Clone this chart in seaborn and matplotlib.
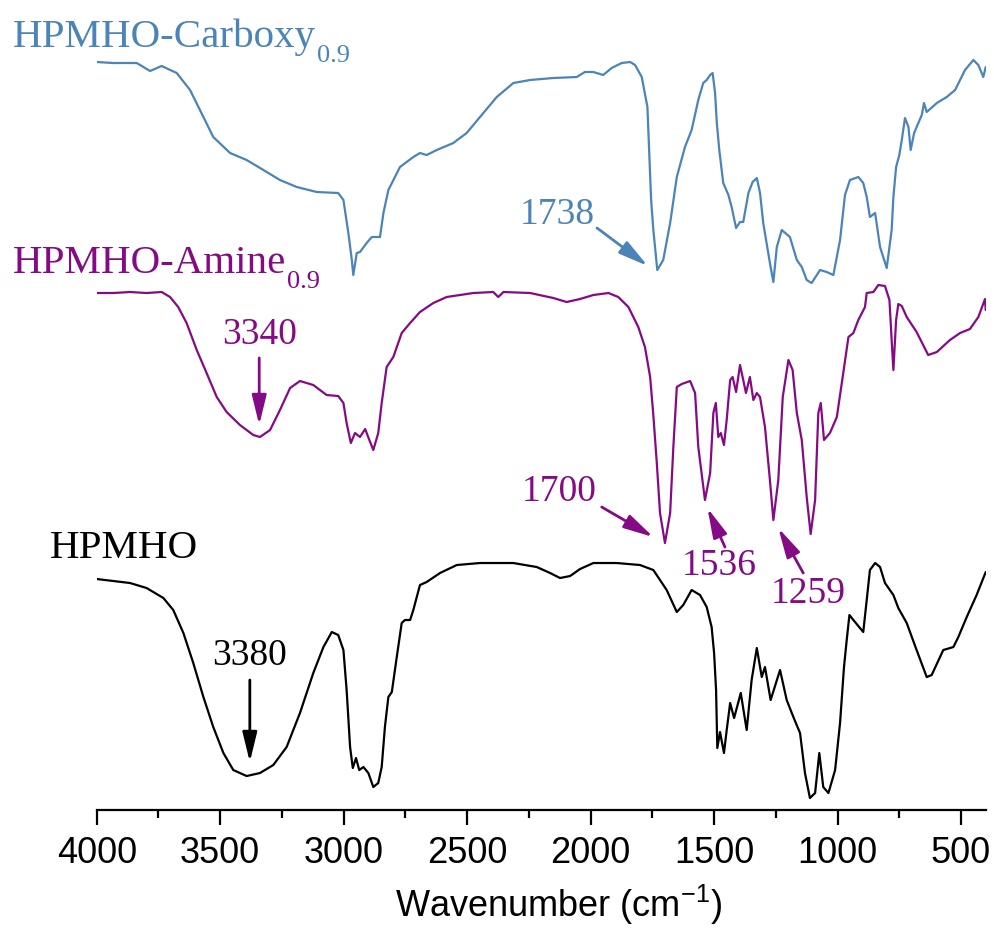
import numpy as np
import pandas as pd
import matplotlib
matplotlib.use("Agg")
import matplotlib.pyplot as plt
import seaborn as sns
from matplotlib.ticker import MultipleLocator

# FTIR spectra, stacked with offsets: wavenumber (cm-1) vs transmittance (a.u.)
carboxy_wn = [4000, 3933, 3838, 3784, 3737, 3676, 3622, 3568, 3528, 3460, 3393, 3325,
              3258, 3190, 3109, 3022, 3001, 2981, 2967, 2961, 2947, 2934, 2907, 2886,
              2853, 2839, 2819, 2772, 2718, 2691, 2664, 2623, 2556, 2502, 2448, 2380,
              2313, 2245, 2151, 2056, 2023, 1989, 1949, 1915, 1874, 1840, 1820, 1793,
              1770, 1762, 1755, 1746, 1730, 1706, 1678, 1651, 1618, 1591, 1564, 1544,
              1530, 1516, 1506, 1496, 1489, 1479, 1463, 1442, 1429, 1411, 1395, 1382,
              1361, 1344, 1327, 1314, 1301, 1274, 1260, 1246, 1226, 1193, 1165, 1145,
              1125, 1105, 1071, 1044, 1017, 990, 970, 950, 916, 896, 882, 869, 848, 828,
              801, 781, 774, 763, 750, 740, 727, 713, 704, 690, 673, 659, 650, 639, 598,
              558, 524, 484, 450, 430, 410, 400]
carboxy_t = [748, 747, 747, 739, 744, 737, 720, 693, 673, 657, 650, 640,
             630, 623, 618, 617, 610, 577, 550, 535, 557, 558, 567, 573,
             573, 597, 620, 643, 653, 657, 655, 660, 667, 677, 693, 713,
             727, 730, 732, 733, 738, 738, 735, 742, 747, 748, 745, 733,
             703, 653, 610, 580, 540, 550, 587, 633, 663, 680, 710, 727,
             730, 735, 737, 717, 687, 660, 627, 615, 603, 582, 588, 588,
             617, 628, 632, 617, 587, 547, 528, 563, 580, 573, 550, 543,
             530, 527, 540, 538, 535, 570, 615, 630, 633, 627, 613, 593, 597, 563,
             542, 580, 613, 643, 655, 670, 692, 683, 660, 677, 687, 695, 707, 698, 707,
             713, 720, 740, 750, 745, 733, 743]

amine_wn = [4000, 3933, 3865, 3798, 3737, 3703, 3670, 3636, 3595, 3555, 3514, 3474,
            3420, 3366, 3339, 3298, 3258, 3217, 3177, 3123, 3069, 3022, 3001, 2988,
            2971, 2954, 2934, 2913, 2896, 2880, 2860, 2846, 2826, 2799, 2765, 2731,
            2691, 2637, 2583, 2475, 2394, 2374, 2353, 2245, 2151, 2097, 2043, 1989,
            1928, 1888, 1847, 1807, 1780, 1759, 1747, 1732, 1719, 1699, 1678, 1665,
            1651, 1631, 1597, 1577, 1564, 1537, 1516, 1503, 1493, 1483, 1473, 1460,
            1449, 1435, 1425, 1411, 1395, 1382, 1371, 1355, 1341, 1327, 1314, 1294,
            1274, 1260, 1240, 1222, 1199, 1182, 1165, 1145, 1125, 1109, 1091, 1078,
            1068, 1055, 1031, 1003, 977, 956, 936, 916, 889, 882, 855, 835, 808, 790,
            781, 774, 763, 754, 740, 720, 680, 633, 598, 545, 504, 464, 430, 403, 400]
amine_t = [517, 517, 518, 517, 518, 513, 503, 487, 460, 437, 413, 398,
           385, 375, 373, 380, 400, 422, 429, 425, 415, 414, 407, 387,
           367, 377, 373, 381, 370, 360, 377, 407, 443, 453, 477, 487,
           498, 507, 513, 517, 518, 513, 518, 517, 512, 508, 511, 515,
           517, 513, 503, 483, 463, 433, 398, 347, 297, 267, 297, 363,
           423, 426, 429, 417, 363, 310, 337, 397, 407, 373, 377, 365,
           390, 430, 433, 418, 445, 430, 417, 433, 410, 417, 413, 383,
           330, 290, 330, 413, 450, 440, 397, 370, 313, 276, 310, 397,
           407, 370, 377, 393, 437, 473, 477, 490, 503, 517, 518, 525, 524, 510,
           470, 440, 490, 506, 504, 493, 478, 455, 458, 470, 477, 481, 493, 511, 500]

hpmho_wn = [4000, 3865, 3798, 3730, 3690, 3649, 3609, 3568, 3528, 3487, 3447, 3393,
            3339, 3285, 3231, 3177, 3123, 3082, 3048, 3022, 3001, 2988, 2974, 2963,
            2950, 2937, 2920, 2900, 2880, 2860, 2846, 2833, 2819, 2805, 2785, 2765,
            2752, 2731, 2718, 2704, 2691, 2664, 2610, 2542, 2448, 2313, 2218, 2164,
            2124, 2083, 2043, 1989, 1894, 1800, 1746, 1692, 1651, 1625, 1591, 1557,
            1530, 1510, 1500, 1492, 1487, 1476, 1460, 1449, 1435, 1419, 1392, 1368,
            1348, 1327, 1307, 1294, 1271, 1233, 1206, 1179, 1152, 1132, 1112, 1091,
            1074, 1058, 1037, 1010, 990, 974, 963, 952, 936, 896, 882, 869, 848, 828,
            808, 774, 754, 720, 680, 639, 619, 572, 531, 511, 477, 437, 400]
hpmho_t = [231, 227, 222, 212, 200, 177, 147, 113, 83, 57, 40, 34,
           37, 45, 63, 97, 137, 163, 178, 175, 160, 120, 63, 42,
           52, 40, 43, 37, 23, 27, 43, 83, 113, 118, 153, 187,
           190, 190, 200, 213, 225, 228, 237, 245, 247, 247, 243, 237,
           232, 234, 241, 247, 247, 245, 240, 220, 198, 205, 220, 215,
           203, 183, 157, 120, 62, 78, 57, 80, 107, 92, 117, 80,
           130, 162, 133, 143, 110, 140, 110, 93, 77, 37, 12, 17,
           57, 23, 17, 40, 87, 143, 170, 195, 190, 178, 210, 240, 247, 243,
           227, 215, 202, 187, 160, 133, 135, 160, 163, 173, 193, 215, 238]

series_names = ["HPMHO-Carboxy", "HPMHO-Amine", "HPMHO"]
series_subs = ["0.9", "0.9", ""]
series_colors = ["#4a84b8", "#850a85", "#000000"]

# band assignments: label, text centre, arrow tail, arrow head, series index
peak_notes = [
    ("3380", (3380, 154), (3380, 130), (3380, 48), 2),
    ("3340", (3342, 475), (3342, 452), (3342, 385), 1),
    ("1738", (2136, 595), (1974, 582), (1768, 544), 0),
    ("1700", (2128, 318), (1955, 303), (1746, 273), 1),
    ("1536", (1480, 244), (1456, 263), (1527, 302), 1),
    ("1259", (1120, 216), (1139, 237), (1240, 282), 1),
]

tick_values = [4000, 3500, 3000, 2500, 2000, 1500, 1000, 500]

sns.set_style("ticks")
plt.rcParams["font.family"] = ["Liberation Sans", "DejaVu Sans"]
plt.rcParams["mathtext.fontset"] = "custom"
plt.rcParams["mathtext.rm"] = "Liberation Sans"
serif = ["Liberation Serif", "DejaVu Serif"]

fig = plt.figure(figsize=(9.95, 9.30), dpi=100)
ax = fig.add_axes([0.0972, 0.129, 0.8935, 0.871])

spectra = [(carboxy_wn, carboxy_t), (amine_wn, amine_t), (hpmho_wn, hpmho_t)]
for (wn, t), c in zip(spectra, series_colors):
    df = pd.DataFrame({"wn": wn, "t": t})
    sns.lineplot(data=df, x="wn", y="t", ax=ax, color=c, lw=1.6,
                 estimator=None, sort=False)

ax.set_xlim(4000, 400)
ax.set_ylim(0, 810)
ax.set_xticks(tick_values)
ax.set_xticklabels([str(v) for v in tick_values])
ax.xaxis.set_minor_locator(MultipleLocator(250))
ax.set_yticks([])
ax.set_ylabel("")
sns.despine(ax=ax, left=True, top=True, right=True)
ax.spines["bottom"].set_linewidth(1.6)
ax.spines["bottom"].set_color("black")
ax.tick_params(axis="x", which="major", length=11, width=1.6, color="black",
               direction="out", labelsize=26, pad=8, labelcolor="black")
ax.tick_params(axis="x", which="minor", length=6, width=1.6, color="black",
               direction="out")
ax.set_xlabel(r"Wavenumber (cm$^{\mathregular{-1}}$)", fontsize=26, color="black")
ax.xaxis.label.set_va("center")
ax.xaxis.set_label_coords(0.519, -0.117)

# series names with subscripts
label_pos = [(4339, 763), (4339, 537), (4189, 252)]
fig.canvas.draw()
for name, sub, c, (x, y) in zip(series_names, series_subs, series_colors, label_pos):
    t = ax.text(x, y, name, color=c, fontsize=29.5, family=serif,
                ha="left", va="baseline", clip_on=False)
    if sub:
        w = t.get_window_extent(fig.canvas.get_renderer()).width
        ax.annotate(sub, xy=(x, y), xycoords="data", xytext=(w + 1, -15),
                    textcoords="offset pixels", color=c, fontsize=19,
                    family=serif, ha="left", va="baseline", annotation_clip=False)

for label, txt, tail, head, i in peak_notes:
    c = series_colors[i]
    ax.annotate("", xy=head, xytext=tail,
                arrowprops=dict(arrowstyle="-|>,head_length=0.9,head_width=0.22",
                                color=c, lw=2, shrinkA=0, shrinkB=0,
                                mutation_scale=20))
    ax.text(txt[0], txt[1], label, color=c, fontsize=27, family=serif,
            ha="center", va="center")

fig.savefig("out.png", dpi=100)
